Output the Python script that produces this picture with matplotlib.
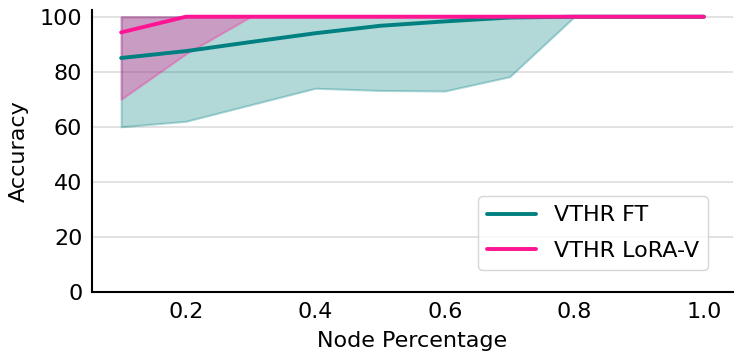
import matplotlib
matplotlib.use("Agg")
import matplotlib.pyplot as plt
import seaborn as sns
import numpy as np

# node percentage on x axis
node_pct = [0.1, 0.2, 0.3, 0.4, 0.5, 0.6, 0.7, 0.8, 0.9, 1.0]

# VTHR FT: mean accuracy and min/max band
ft_mean = [85.0, 87.5, 90.8, 94.0, 96.7, 98.3, 99.7, 100.0, 100.0, 100.0]
ft_min = [60.0, 62.0, 68.0, 74.0, 73.2, 73.0, 78.2, 100.0, 100.0, 100.0]
ft_max = [100.0] * 10

# VTHR LoRA-V
lora_mean = [94.3, 100.0, 100.0, 100.0, 100.0, 100.0, 100.0, 100.0, 100.0, 100.0]
lora_min = [70.0, 86.5, 100.0, 100.0, 100.0, 100.0, 100.0, 100.0, 100.0, 100.0]
lora_max = [100.0] * 10

sns.set_style("whitegrid")
plt.rcParams['font.family'] = ['DejaVu Sans']

fig = plt.figure(figsize=(7.48, 3.64), dpi=100)
ax = fig.add_axes([0.123, 0.198, 0.857, 0.775])

teal = "#008080"
pink = "#ff1493"

ax.fill_between(node_pct, ft_min, ft_max, color=teal, alpha=0.3, linewidth=1.5)
ax.plot(node_pct, ft_mean, color=teal, linewidth=2.8, label="VTHR FT")
ax.fill_between(node_pct, lora_min, lora_max, color=pink, alpha=0.3, linewidth=1.5)
ax.plot(node_pct, lora_mean, color=pink, linewidth=2.8, label="VTHR LoRA-V")

ax.set_xlim(0.055, 1.045)
ax.set_ylim(0, 102.5)
ax.set_xticks([0.2, 0.4, 0.6, 0.8, 1.0])
ax.set_yticks([0, 20, 40, 60, 80, 100])
ax.tick_params(labelsize=16, length=0, pad=7, labelcolor="black")
ax.set_xlabel("Node Percentage", fontsize=16, color="black", labelpad=7)
ax.set_ylabel("Accuracy", fontsize=16, color="black", labelpad=8)

ax.grid(axis="x", visible=False)
ax.grid(axis="y", color="#dddddd", linewidth=1.2)
for side in ["top", "right"]:
    ax.spines[side].set_visible(False)
for side in ["left", "bottom"]:
    ax.spines[side].set_color("black")
    ax.spines[side].set_linewidth(1.5)

leg = ax.legend(loc="lower right", fontsize=16, frameon=True, handlelength=2.2,
                labelspacing=0.7, bbox_to_anchor=(0.978, 0.039))
leg.get_frame().set_edgecolor("#cccccc")
for t in leg.get_texts():
    t.set_color("black")

fig.savefig("out.png", dpi=100)
